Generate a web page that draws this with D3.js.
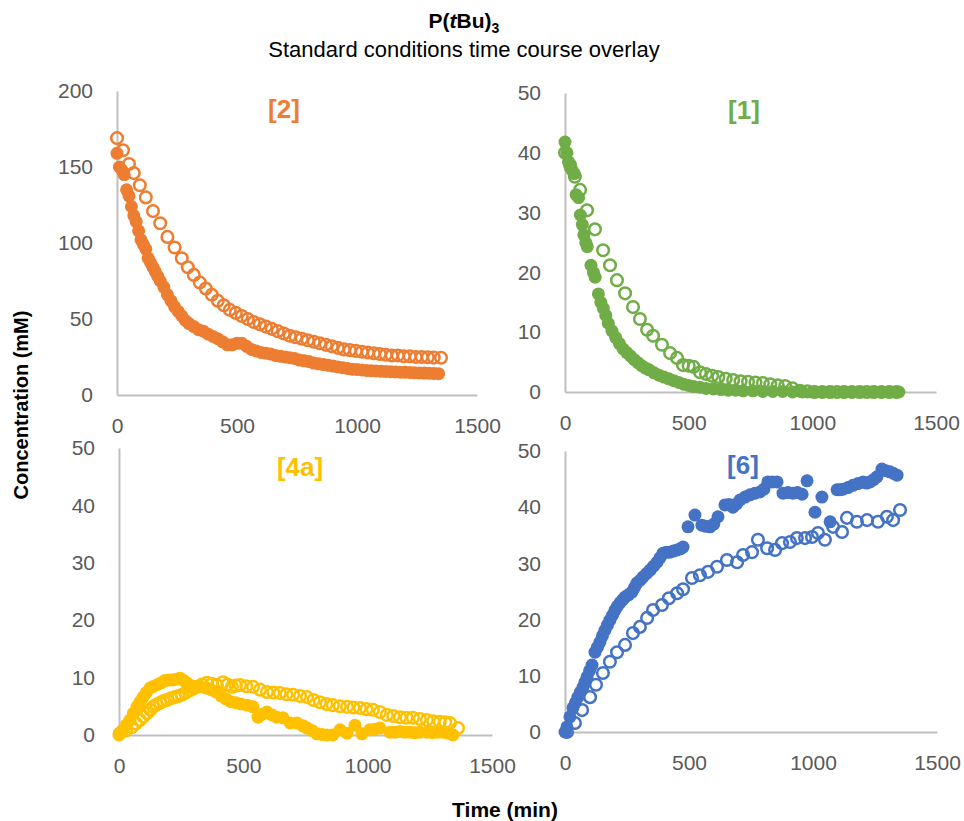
<!DOCTYPE html>
<html>
<head>
<meta charset="utf-8">
<script src="https://cdn.jsdelivr.net/npm/d3@7"></script>
<style>
  body { margin: 0; background: #fff; }
  svg text { font-family: "Liberation Sans", Arial, sans-serif; }
</style>
</head>
<body>
<script>
// P(tBu)3 - standard conditions time course overlay, 4 small panels
// each series is [time (min), concentration (mM)]

var conc2Solid = [[0,159],[10,150],[20,148],[30,145],[40,135],[50,131],[60,124],[70,118],[80,114],[90,108],
  [100,102],[110,99],[120,96],[130,90],[140,87],[150,84],[160,81],[170,78],[180,75],[195,71],[210,66],[225,62],
  [240,58],[255,55],[270,52],[285,49],[300,47],[320,45],[340,43],[360,42],[380,40],[400,38.5],[420,37],[440,35],
  [460,33],[480,33],[500,34],[520,34],[540,32],[560,30],[580,29],[600,28],[620,27.5],[640,27],[660,26],[680,25.5],
  [700,25],[720,24.5],[740,24],[760,23],[780,22.5],[800,22],[820,21],[840,20.5],[860,20],[880,19.5],[900,19],
  [920,18.5],[940,18],[960,17.5],[980,17],[1000,16.8],[1020,16.5],[1040,16.2],[1060,16],[1080,15.8],[1100,15.6],
  [1120,15.5],[1140,15.3],[1160,15.2],[1180,15],[1200,15],[1220,14.8],[1240,14.6],[1260,14.5],[1280,14.4],
  [1300,14.3],[1320,14.2],[1340,14]];
var conc2Open = [[0,169],[25,161],[50,152],[70,146],[95,138],[120,130],[150,121],[180,113],[210,104],[240,97],
  [270,90],[295,84],[320,79],[345,74],[370,70],[395,66],[420,62],[445,59],[470,56],[495,54],[520,52],[545,50],
  [570,48],[595,46.5],[620,45],[645,43.5],[670,42],[695,40.5],[720,39],[745,38],[770,37],[795,36],[820,35],
  [845,34],[870,33],[895,32],[920,31],[945,30],[970,29.5],[995,29],[1020,28.5],[1045,28],[1070,27.5],[1095,27],
  [1120,26.5],[1145,26],[1170,26],[1195,25.5],[1220,25.5],[1245,25],[1270,25],[1295,24.8],[1320,24.6],[1350,24.5]];

var conc1Solid = [[0,41.8],[8,40],[14,38.5],[22,37.5],[30,37],[38,36.5],[45,33],[55,32.5],[62,29.6],[70,28],
  [76,26.3],[84,25],[90,24.3],[105,21.2],[115,20],[122,19.2],[135,16.4],[145,15],[155,14],[165,12.8],[175,11.5],
  [190,10.2],[205,9.1],[220,8.1],[235,7.2],[250,6.6],[265,6],[280,5.4],[295,4.9],[310,4.4],[325,4],[340,3.7],
  [360,3.2],[380,2.8],[400,2.5],[420,2.2],[440,1.9],[460,1.6],[480,1.3],[500,1.1],[520,0.9],[545,0.8],[570,0.6],
  [600,0.5],[630,0.4],[660,0.3],[690,0.3],[720,0.2],[760,0.2],[800,0.1],[840,0.1],[880,0.1],[920,0],[960,0],
  [1000,0],[1040,0],[1080,0],[1120,0],[1160,0],[1200,0],[1240,0],[1280,0],[1320,0],[1350,0]];
var conc1Open = [[0,40],[20,38],[40,36],[61,33.8],[89,30.4],[121,27.2],[154,23.7],[182,21.2],[210,18.7],
  [243,16.5],[275,14.2],[303,12.2],[332,10.4],[356,9.4],[392,7.9],[425,6.5],[453,5.7],[477,4.5],[500,4.4],
  [520,4.2],[546,3.3],[570,3],[595,2.7],[620,2.5],[650,2.2],[680,2],[710,1.8],[740,1.7],[770,1.6],[800,1.5],
  [830,1.3],[860,1.1],[890,1],[920,0.6],[950,0.2],[980,0.1],[1010,0],[1040,0],[1070,0],[1100,0],[1130,0],
  [1160,0],[1190,0],[1220,0],[1250,0],[1280,0],[1310,0],[1340,0]];

var conc4aSolid = [[0,0],[16,0.9],[30,1.8],[44,2.6],[58,3.8],[72,4.9],[85,5.8],[97,6.6],[110,7.4],[125,8.2],
  [140,8.5],[155,8.8],[170,9.1],[185,9.5],[200,9.6],[215,9.6],[230,9.7],[245,9.9],[260,9.5],[275,9],[290,8.6],
  [310,8.4],[330,8.4],[350,8.2],[370,7.9],[390,7.5],[410,6.8],[430,6.3],[450,5.8],[470,5.6],[490,5.4],[515,5.2],
  [539,4.9],[559,3.1],[575,3.6],[595,4],[615,3.5],[635,3.1],[659,3],[688,2.1],[716,2.1],[740,1.6],[756,1.2],
  [776,0.8],[796,0.2],[816,0.1],[836,0],[860,0],[889,0.9],[917,0.3],[949,1.7],[977,0.2],[1009,0.9],[1029,1],
  [1049,1.2],[1090,0.5],[1110,0.5],[1130,0.6],[1150,0.5],[1170,0.5],[1190,0.4],[1210,0.5],[1238,0.5],[1260,0.4],
  [1283,0.5],[1303,0.5],[1323,0.3],[1343,0]];
var conc4aOpen = [[4,0.3],[28,0.8],[52,1.4],[68,2],[84,2.6],[98,3.2],[113,3.8],[125,4.4],[137,4.9],[151,5.3],
  [165,5.6],[179,5.9],[193,6.1],[209,6.4],[225,6.6],[239,6.8],[253,7],[269,7.4],[285,7.8],[300,8.1],[314,8.4],
  [334,8.8],[354,9.1],[374,8.9],[394,8.7],[418,9.2],[436,8.8],[454,8.4],[470,8.6],[487,8.7],[512,8.5],[539,8.4],
  [567,7.9],[595,7.5],[621,7.4],[647,7.3],[673,7.1],[700,7],[728,6.8],[756,6.6],[782,6.1],[808,5.7],[834,5.4],
  [860,5.2],[888,5],[917,4.9],[943,4.8],[969,4.7],[995,4.5],[1021,4.4],[1049,4],[1077,3.5],[1103,3.3],[1130,3.1],
  [1156,3],[1182,3],[1210,2.8],[1238,2.6],[1264,2.4],[1290,2.3],[1312,2.2],[1331,2.1],[1363,1.2]];

var conc6Solid = [[0,0],[8,0.9],[20,2.7],[32,4.3],[42,5.2],[52,6.2],[62,7.1],[73,8],[81,8.9],[89,9.8],[99,10.9],
  [109,11.9],[121,14.2],[131,15.1],[141,16],[151,17.1],[161,18.1],[171,19],[181,19.9],[192,20.8],[202,21.7],
  [212,22.4],[222,23],[232,23.5],[242,24],[256,24.4],[270,24.9],[280,25.7],[290,26.5],[303,27],[315,27.6],
  [329,28.2],[343,28.8],[357,29.5],[371,30.2],[383,31],[395,31.8],[409,32],[423,32],[437,32.2],[452,32.4],
  [465,32.6],[476,32.9],[496,36.5],[524,38.6],[552,36.8],[568,36.6],[585,36.5],[600,37],[617,38.3],[645,40.4],
  [661,40.5],[677,40],[692,40.6],[706,41.3],[726,41.8],[746,42.2],[766,42.5],[786,42.7],[802,43.2],[818,44.5],
  [836,44.5],[855,44.5],[879,42.5],[899,42.6],[919,42.5],[937,42.6],[956,42.3],[976,44.7],[1008,39.1],
  [1036,41.8],[1069,37.4],[1097,43.1],[1109,43.1],[1121,43.2],[1141,43.5],[1161,43.9],[1181,44.2],[1202,44.5],
  [1216,44.3],[1230,44.5],[1244,44.9],[1258,45.4],[1278,46.8],[1294,46.5],[1310,46.3],[1325,46],[1339,45.7]];
var conc6Open = [[8,0],[40,1.6],[69,3.9],[101,6.2],[125,8.4],[153,10.5],[181,12.5],[210,14.2],[242,15.5],
  [274,17.6],[302,18.7],[331,20.3],[355,21.7],[391,22.6],[419,23.8],[452,24.7],[476,25.4],[512,27.4],[544,27.9],
  [577,28.5],[613,29.4],[653,30.6],[694,30.2],[718,31.5],[754,32],[778,34.2],[815,32.7],[847,32.4],[875,33.6],
  [907,33.8],[935,34.5],[968,34.5],[996,34.7],[1020,35.4],[1048,34.2],[1081,36.5],[1117,35.6],[1137,38.1],
  [1177,37.4],[1218,37.7],[1262,37.4],[1298,38.3],[1323,37.7],[1351,39.5]];

var timeTicks = [0, 500, 1000, 1500];
var panelLabels = ["[2]", "[1]", "[4a]", "[6]"];
var yMaxes = [200, 50, 50, 50];
var colors = ["#ED7D31", "#70AD47", "#FFC000", "#4472C4"];
var solidSeries = [conc2Solid, conc1Solid, conc4aSolid, conc6Solid];
var openSeries = [conc2Open, conc1Open, conc4aOpen, conc6Open];

// pixel boxes of each plot area [left, right, bottom, top] and label position
var boxes = [
  {x0: 117, x1: 477, y0: 395, y1: 91,  lx: 284, ly: 118},
  {x0: 565, x1: 936, y0: 392, y1: 93,  lx: 744, ly: 119},
  {x0: 119, x1: 492, y0: 735, y1: 448, lx: 300, ly: 476},
  {x0: 565, x1: 937, y0: 732, y1: 451, lx: 743, ly: 474}
];

var svg = d3.select("body").append("svg")
    .attr("width", 964)
    .attr("height", 821);

var title = svg.append("text")
    .attr("x", 464).attr("y", 28)
    .attr("text-anchor", "middle")
    .attr("font-size", 21).attr("font-weight", "bold").attr("fill", "#000");
title.append("tspan").text("P(");
title.append("tspan").attr("font-style", "italic").text("t");
title.append("tspan").text("Bu)");
title.append("tspan").attr("font-size", 14).attr("dy", 5).text("3");

svg.append("text")
    .attr("x", 464).attr("y", 57)
    .attr("text-anchor", "middle")
    .attr("font-size", 22).attr("fill", "#000")
    .text("Standard conditions time course overlay");

svg.append("text")
    .attr("transform", "translate(28,405) rotate(-90)")
    .attr("text-anchor", "middle")
    .attr("font-size", 20).attr("font-weight", "bold").attr("fill", "#000")
    .text("Concentration (mM)");

svg.append("text")
    .attr("x", 505).attr("y", 817)
    .attr("text-anchor", "middle")
    .attr("font-size", 21).attr("font-weight", "bold").attr("fill", "#000")
    .text("Time (min)");

boxes.forEach(function(b, i) {
  var x = d3.scaleLinear().domain([0, 1500]).range([b.x0, b.x1]);
  var y = d3.scaleLinear().domain([0, yMaxes[i]]).range([b.y0, b.y1]);
  var g = svg.append("g");

  var xAxis = g.append("g")
      .attr("transform", "translate(0," + b.y0 + ")")
      .call(d3.axisBottom(x).tickValues(timeTicks).tickSize(0).tickPadding(23).tickFormat(d3.format("d")));
  var yAxis = g.append("g")
      .attr("transform", "translate(" + b.x0 + ",0)")
      .call(d3.axisLeft(y).ticks(5).tickSize(0).tickPadding(24).tickFormat(d3.format("d")));

  [xAxis, yAxis].forEach(function(a) {
    a.select(".domain").attr("stroke", "#BFBFBF").attr("stroke-width", 2);
    a.selectAll("text")
      .attr("font-family", "Liberation Sans, Arial, sans-serif")
      .attr("font-size", 21).attr("fill", "#595959");
  });

  // open markers first, filled ones sit on top
  g.append("g").selectAll("circle")
    .data(openSeries[i])
    .enter().append("circle")
    .attr("cx", function(d) { return x(d[0]); })
    .attr("cy", function(d) { return y(d[1]); })
    .attr("r", 5.8)
    .attr("fill", "none")
    .attr("stroke", colors[i])
    .attr("stroke-width", 2.5);

  g.append("g").selectAll("circle")
    .data(solidSeries[i])
    .enter().append("circle")
    .attr("cx", function(d) { return x(d[0]); })
    .attr("cy", function(d) { return y(d[1]); })
    .attr("r", 6.5)
    .attr("fill", colors[i]);

  g.append("text")
    .attr("x", b.lx).attr("y", b.ly)
    .attr("text-anchor", "middle")
    .attr("font-size", 26).attr("font-weight", "bold")
    .attr("fill", colors[i])
    .text(panelLabels[i]);
});
</script>
</body>
</html>
